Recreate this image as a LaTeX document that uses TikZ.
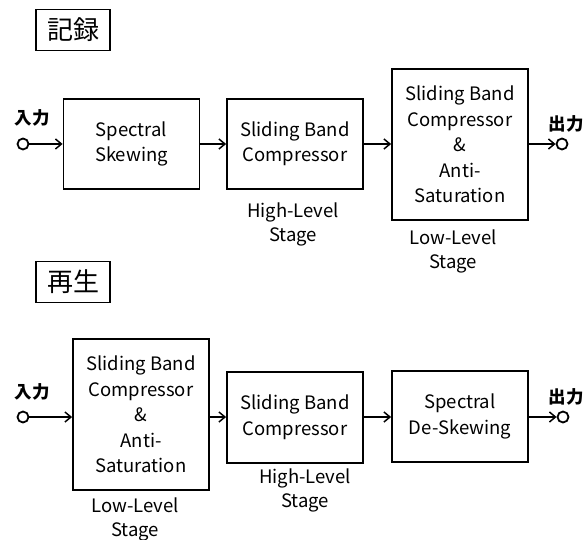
\documentclass[tikz,border=0pt]{standalone}
\usepackage{fontspec}
\setmainfont{Noto Sans CJK JP}
\usetikzlibrary{arrows.meta}
\tikzset{
  blk/.style={draw, line width=1.8pt, minimum width=136pt, align=center, inner sep=0pt,
    font=\fontsize{18.5}{25.5}\selectfont},
  ttl/.style={draw, line width=1.5pt, minimum width=74pt, minimum height=41pt, inner sep=0pt,
    font=\fontsize{26}{30}\selectfont},
  term/.style={circle, draw, line width=1.8pt, minimum size=11pt, inner sep=0pt},
  jl/.style={font=\bfseries\fontsize{17.5}{20}\selectfont, inner sep=0pt},
  stg/.style={align=center, inner sep=0pt, font=\fontsize{18.5}{24}\selectfont},
  conn/.style={line width=1.5pt, -{Straight Barb[length=6pt,width=10pt,line width=1.5pt]}}
}
\begin{document}
\begin{tikzpicture}[x=1pt,y=-1pt]
\useasboundingbox[fill=white] (0,0) rectangle (586,540);
% top section
\node[ttl] (t1) at (73,30) {記録};
\node[term] (in1) at (23,144) {};
\node[jl] (inl1) at (32,118) {入力};
\node[blk, minimum height=90pt] (b1) at (131.5,144) {Spectral\\Skewing};
\node[blk, minimum height=90pt] (b2) at (295,144) {Sliding Band\\Compressor};
\node[blk, minimum height=151pt] (b3) at (460,144.5) {Sliding Band\\Compressor\\\&\\Anti-\\Saturation};
\node[stg] (hl1) at (293,224) {High-Level\\Stage};
\node[stg] (ll1) at (453,251) {Low-Level\\Stage};
\node[term] (out1) at (562,144) {};
\node[jl] (outl1) at (566,124) {出力};
\draw[conn] (in1) -- (b1.west |- in1);
\draw[conn] (b1.east |- in1) -- (b2.west |- in1);
\draw[conn] (b2.east |- in1) -- (b3.west |- in1);
\draw[conn] (b3.east |- in1) -- (out1);
% bottom section
\node[ttl] (t2) at (73,282) {再生};
\node[term] (in2) at (23,417) {};
\node[jl] (inl2) at (32,392) {入力};
\node[blk, minimum height=151pt] (c1) at (141,414.5) {Sliding Band\\Compressor\\\&\\Anti-\\Saturation};
\node[blk, minimum height=91pt] (c2) at (295,417.5) {Sliding Band\\Compressor};
\node[blk, minimum height=91pt] (c3) at (460,416.5) {Spectral\\De-Skewing};
\node[stg] (ll2) at (135,519) {Low-Level\\Stage};
\node[stg] (hl2) at (305,490) {High-Level\\Stage};
\node[term] (out2) at (563,417) {};
\node[jl] (outl2) at (566,397) {出力};
\draw[conn] (in2) -- (c1.west |- in2);
\draw[conn] (c1.east |- in2) -- (c2.west |- in2);
\draw[conn] (c2.east |- in2) -- (c3.west |- in2);
\draw[conn] (c3.east |- in2) -- (out2);
\end{tikzpicture}
\end{document}
